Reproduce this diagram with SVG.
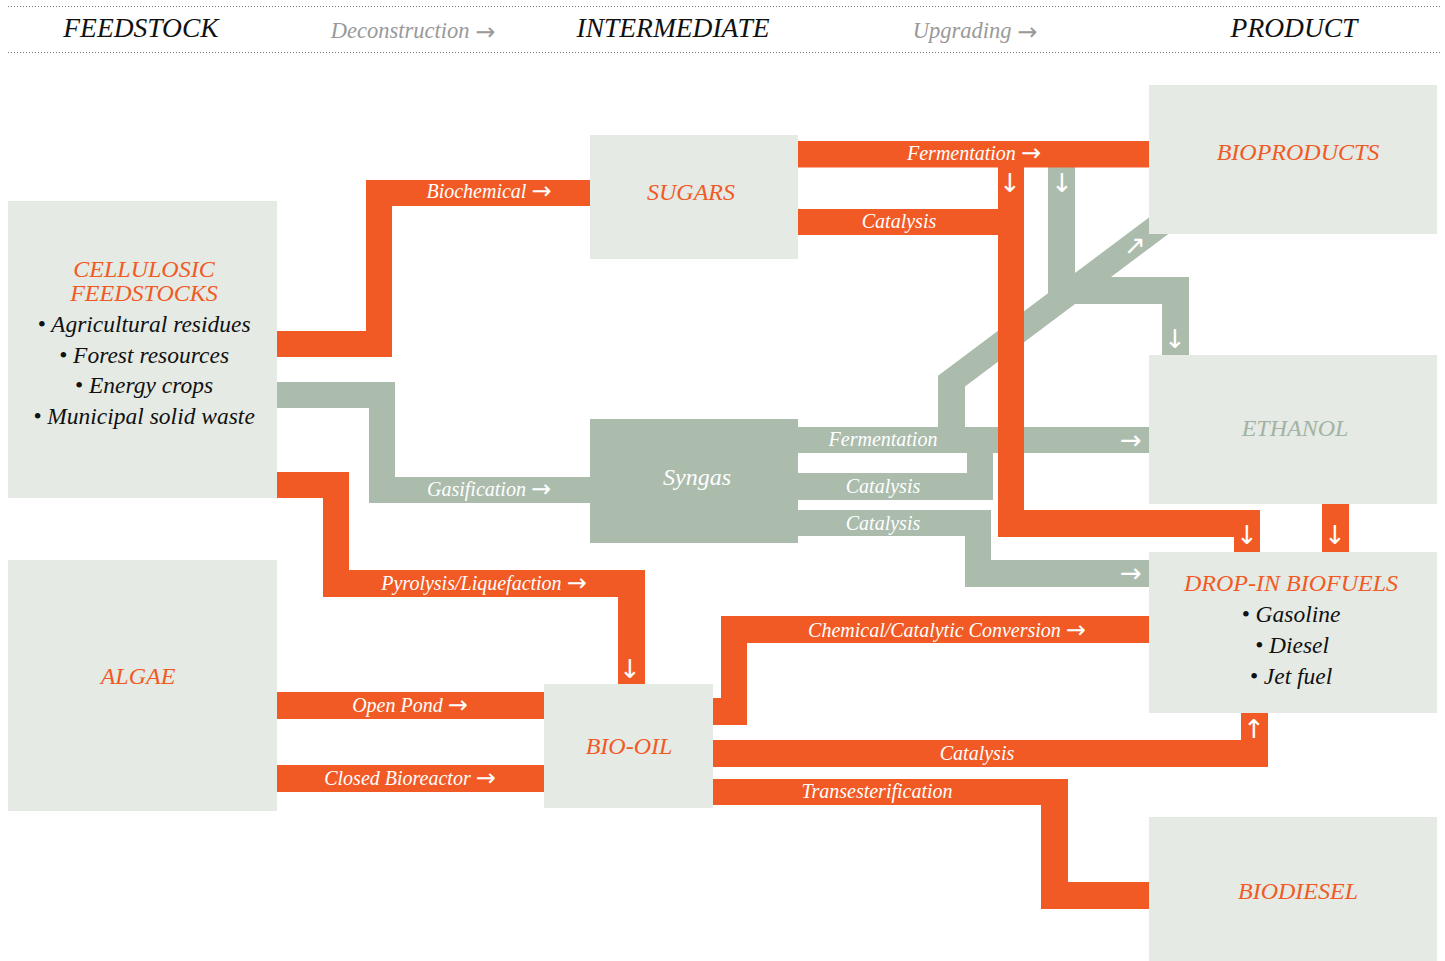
<svg xmlns="http://www.w3.org/2000/svg" width="1445" height="961" viewBox="0 0 1445 961">
<style>
text{font-family:"Liberation Serif","DejaVu Serif",serif;font-style:italic;text-anchor:middle}
.hd{font-size:27.5px;fill:#111}
.hg{font-size:22.5px;fill:#999}
.box{fill:#e5eae4}
.sage{fill:#abbcad}
.org{fill:#f15a24}
.t{font-size:24px;fill:#f15a24}
.b{font-size:23.5px;fill:#111}
.lbl{font-size:20px;fill:#fff}
.a{font-family:"DejaVu Sans",sans-serif;font-style:normal;font-size:24px}
.ar{font-size:26px;fill:#fff;font-style:normal;font-family:"DejaVu Sans",sans-serif}
.dot{stroke:#777;stroke-width:1;stroke-dasharray:1 2;fill:none}
</style>
<rect width="1445" height="961" fill="#fff"/>
<g id="header">
<line class="dot" x1="8" y1="6.5" x2="1440" y2="6.5"/>
<line class="dot" x1="8" y1="52.5" x2="1440" y2="52.5"/>
<text class="hd" x="141" y="37">FEEDSTOCK</text>
<text class="hg" x="413" y="38">Deconstruction <tspan class="a" dy="2">→</tspan></text>
<text class="hd" x="673" y="37">INTERMEDIATE</text>
<text class="hg" x="975" y="38">Upgrading <tspan class="a" dy="2">→</tspan></text>
<text class="hd" x="1294" y="37">PRODUCT</text>
</g>
<g id="connectors">
<g class="sage">
<path d="M277,382 L395,382 L395,477 L590,477 L590,503 L369,503 L369,408 L277,408 Z"/>
<rect x="798" y="427" width="351" height="26"/>
<path d="M798,473 L967,473 L967,452 L993,452 L993,500 L798,500 Z"/>
<path d="M798,510 L991,510 L991,560 L1149,560 L1149,587 L965,587 L965,536 L798,536 Z"/>
<path d="M938,428 L938,375.75 L1048,293.25 L1048,167 L1075,167 L1075,273 L1180,194.25 L1180,225.25 L1111,277 L1189,277 L1189,355 L1162,355 L1162,304 L1075,304 L965,386.5 L965,428 Z"/>
</g>
<g class="org">
<path d="M277,331 L366,331 L366,180 L590,180 L590,206 L392,206 L392,357 L277,357 Z"/>
<path d="M277,472 L349,472 L349,570 L645,570 L645,684 L618,684 L618,597 L323,597 L323,498 L277,498 Z"/>
<rect x="277" y="692" width="267" height="27"/>
<rect x="277" y="765" width="267" height="27"/>
<rect x="798" y="141" width="351" height="26.5"/>
<rect x="798" y="209" width="200" height="26"/>
<path d="M998,167 L1024,167 L1024,510 L1260,510 L1260,552 L1234,552 L1234,537 L998,537 Z"/>
<rect x="1322" y="504" width="27" height="48"/>
<path d="M713,698 L721,698 L721,616 L1149,616 L1149,643 L747,643 L747,725 L713,725 Z"/>
<path d="M713,740 L1241,740 L1241,713 L1268,713 L1268,767 L713,767 Z"/>
<path d="M713,779 L1068,779 L1068,882 L1149,882 L1149,909 L1041,909 L1041,805 L713,805 Z"/>
</g>
<g id="connector-labels">
<text class="lbl" x="489" y="198">Biochemical <tspan class="a" dy="1">→</tspan></text>
<text class="lbl" x="489" y="496">Gasification <tspan class="a" dy="1">→</tspan></text>
<text class="lbl" x="484" y="590">Pyrolysis/Liquefaction <tspan class="a" dy="1">→</tspan></text>
<text class="lbl" x="410" y="712">Open Pond <tspan class="a" dy="1">→</tspan></text>
<text class="lbl" x="410" y="785">Closed Bioreactor <tspan class="a" dy="1">→</tspan></text>
<text class="lbl" x="974" y="160">Fermentation <tspan class="a" dy="1">→</tspan></text>
<text class="lbl" x="899" y="228">Catalysis</text>
<text class="lbl" x="883" y="446">Fermentation</text>
<text class="lbl" x="883" y="493">Catalysis</text>
<text class="lbl" x="883" y="530">Catalysis</text>
<text class="lbl" x="947" y="637">Chemical/Catalytic Conversion <tspan class="a" dy="1">→</tspan></text>
<text class="lbl" x="977" y="760">Catalysis</text>
<text class="lbl" x="877" y="798">Transesterification</text>
<text class="ar" x="1131" y="449">→</text>
<text class="ar" x="1131" y="582">→</text>
<text class="ar" x="1010" y="192">↓</text>
<text class="ar" x="1062" y="192">↓</text>
<text class="ar" x="1135" y="254">↗</text>
<text class="ar" x="1175" y="348">↓</text>
<text class="ar" x="630" y="678">↓</text>
<text class="ar" x="1247" y="544">↓</text>
<text class="ar" x="1335" y="544">↓</text>
<text class="ar" x="1254" y="738">↑</text>
</g>
</g>
<g id="cellulosic">
<rect class="box" x="8" y="201" width="269" height="297"/>
<text class="t" x="144" y="277">CELLULOSIC</text>
<text class="t" x="144" y="301">FEEDSTOCKS</text>
<text class="b" x="144" y="332">• Agricultural residues</text>
<text class="b" x="144" y="363">• Forest resources</text>
<text class="b" x="144" y="393">• Energy crops</text>
<text class="b" x="144" y="424">• Municipal solid waste</text>
</g>
<g id="algae">
<rect class="box" x="8" y="560" width="269" height="251"/>
<text class="t" x="138" y="684">ALGAE</text>
</g>
<g id="sugars">
<rect class="box" x="590" y="135" width="208" height="124"/>
<text class="t" x="691" y="200">SUGARS</text>
</g>
<g id="syngas">
<rect class="sage" x="590" y="419" width="208" height="124"/>
<text class="t" x="697" y="485" style="fill:#fff">Syngas</text>
</g>
<g id="bio-oil">
<rect class="box" x="544" y="684" width="169" height="124"/>
<text class="t" x="629" y="754">BIO-OIL</text>
</g>
<g id="bioproducts">
<rect class="box" x="1149" y="85" width="288" height="149"/>
<text class="t" x="1298" y="160">BIOPRODUCTS</text>
</g>
<g id="ethanol">
<rect class="box" x="1149" y="355" width="288" height="149"/>
<text class="t" x="1295" y="436" style="fill:#a3b2a5">ETHANOL</text>
</g>
<g id="drop-in">
<rect class="box" x="1149" y="552" width="288" height="161"/>
<text class="t" x="1291" y="591">DROP-IN BIOFUELS</text>
<text class="b" x="1291" y="622">• Gasoline</text>
<text class="b" x="1292" y="653">• Diesel</text>
<text class="b" x="1291" y="684">• Jet fuel</text>
</g>
<g id="biodiesel">
<rect class="box" x="1149" y="817" width="288" height="144"/>
<text class="t" x="1298" y="899">BIODIESEL</text>
</g>
</svg>
